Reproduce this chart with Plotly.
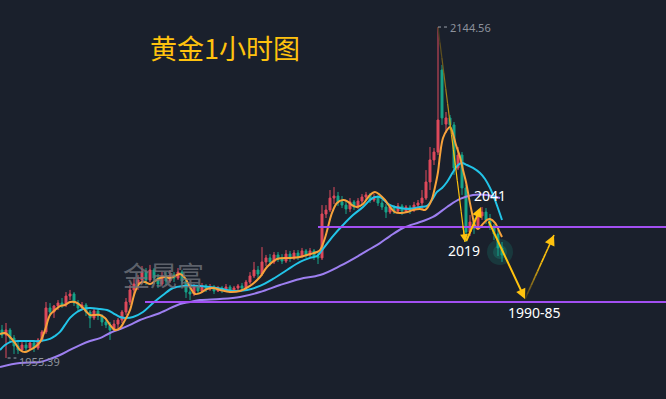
import plotly.graph_objects as go

# ---------------- data (gold, 1h candles) ----------------
candle_open = [1971.4, 1968.5, 1971.4, 1966.8, 1962.3, 1960.0, 1962.8, 1961.1, 1964.0, 1961.1,
               1965.7, 1970.3, 1984.0, 1981.7, 1985.1, 1986.8, 1985.7, 1990.8, 1992.0, 1986.8,
               1984.0, 1985.7, 1981.7, 1978.3, 1982.3, 1979.4, 1976.0, 1974.3, 1971.4, 1974.8,
               1977.1, 1981.7, 1987.4, 1994.3, 1997.7, 2000.0, 2004.5, 2000.0, 2005.7, 2001.1,
               1997.7, 2002.3, 1999.4, 2002.8, 2001.1, 2004.5, 1999.4, 1993.1, 1992.0, 1996.0,
               1993.7, 1996.6, 1994.8, 1996.0, 1993.7, 1995.4, 1994.3, 1996.0, 1994.3, 1995.4,
               1996.6, 1995.4, 1998.8, 2002.3, 2005.7, 2003.4, 2010.3, 2012.6, 2010.3, 2014.3,
               2012.0, 2010.8, 2014.8, 2012.6, 2015.4, 2013.7, 2016.6, 2014.3, 2016.6, 2013.7,
               2012.6, 2037.7, 2040.0, 2046.8, 2048.0, 2044.6, 2042.8, 2040.6, 2044.6, 2041.7,
               2045.1, 2047.4, 2048.6, 2045.7, 2047.4, 2044.0, 2041.7, 2038.8, 2041.7, 2039.4,
               2042.3, 2039.4, 2041.7, 2040.0, 2042.8, 2044.0, 2046.8, 2056.0, 2068.6, 2073.1,
               2120.0, 2089.1, 2092.6, 2088.6, 2064.0, 2071.4, 2052.6, 2027.4, 2033.1, 2029.7,
               2036.6, 2038.8, 2034.3, 2030.8, 2026.3, 2018.3]
candle_high = [1974.3, 1975.4, 1972.5, 1968.5, 1965.7, 1964.5, 1965.7, 1965.7, 1965.7, 1966.8,
               1971.4, 1987.4, 1986.8, 1985.7, 1988.5, 1989.7, 1993.1, 1994.3, 1993.1, 1988.5,
               1987.4, 1986.8, 1982.8, 1984.0, 1983.4, 1980.5, 1978.3, 1976.0, 1977.1, 1978.3,
               1982.8, 1989.7, 1997.1, 2001.1, 2002.8, 2008.0, 2006.8, 2008.6, 2006.8, 2003.4,
               2004.5, 2004.5, 2005.7, 2004.5, 2006.8, 2005.7, 2001.1, 1996.6, 1997.7, 1997.1,
               1998.3, 1997.7, 1997.7, 1997.1, 1996.6, 1996.6, 1997.7, 1997.1, 1996.6, 1997.7,
               1998.3, 2000.0, 2004.5, 2010.3, 2008.0, 2018.8, 2014.3, 2014.8, 2016.0, 2016.0,
               2014.8, 2017.1, 2016.6, 2017.1, 2017.1, 2018.3, 2017.7, 2018.3, 2017.7, 2016.0,
               2042.8, 2042.8, 2051.4, 2053.1, 2050.3, 2048.0, 2045.7, 2046.8, 2045.7, 2046.8,
               2049.1, 2050.3, 2049.7, 2049.1, 2048.6, 2045.7, 2043.4, 2043.4, 2042.8, 2044.0,
               2043.4, 2042.8, 2042.8, 2044.6, 2045.7, 2051.4, 2062.8, 2076.0, 2075.4, 2144.56,
               2122.9, 2096.0, 2094.3, 2090.3, 2076.0, 2073.1, 2054.3, 2037.1, 2035.4, 2038.8,
               2041.7, 2041.1, 2037.7, 2032.0, 2028.6, 2021.7]
candle_low = [1966.8, 1955.39, 1964.5, 1957.7, 1957.7, 1958.8, 1958.8, 1960.0, 1958.8, 1960.0,
              1964.5, 1969.1, 1979.4, 1978.3, 1982.8, 1984.0, 1984.5, 1988.5, 1985.1, 1981.7,
              1982.8, 1979.4, 1972.5, 1977.1, 1977.1, 1973.7, 1972.5, 1965.7, 1970.3, 1972.5,
              1975.4, 1980.0, 1985.7, 1990.8, 1994.3, 1997.7, 1997.1, 1998.8, 1997.7, 1995.4,
              1996.6, 1997.1, 1998.3, 1998.8, 2000.0, 1997.7, 1989.7, 1988.5, 1990.8, 1992.0,
              1992.5, 1993.1, 1993.7, 1992.0, 1993.1, 1992.5, 1993.1, 1992.5, 1993.1, 1994.3,
              1993.7, 1994.3, 1997.7, 2001.1, 2001.1, 2002.3, 2008.0, 2008.0, 2009.1, 2010.3,
              2009.1, 2009.7, 2010.3, 2011.4, 2011.4, 2012.6, 2012.6, 2013.1, 2011.4, 2009.1,
              2011.4, 2035.4, 2038.8, 2043.4, 2042.3, 2041.1, 2037.7, 2038.8, 2040.0, 2040.6,
              2043.4, 2045.1, 2044.0, 2044.6, 2042.3, 2040.0, 2035.4, 2037.7, 2037.7, 2038.3,
              2037.1, 2038.3, 2037.7, 2038.8, 2041.1, 2040.0, 2045.7, 2051.4, 2065.7, 2071.4,
              2088.6, 2084.0, 2085.7, 2060.0, 2062.8, 2048.6, 2021.7, 2025.1, 2026.3, 2028.6,
              2034.3, 2032.0, 2028.6, 2022.8, 2013.7, 2010.3]
candle_close = [1968.5, 1971.4, 1966.8, 1962.3, 1960.0, 1962.8, 1961.1, 1964.0, 1961.1, 1965.7,
                1970.3, 1984.0, 1981.7, 1985.1, 1986.8, 1985.7, 1990.8, 1992.0, 1986.8, 1984.0,
                1985.7, 1981.7, 1978.3, 1982.3, 1979.4, 1976.0, 1974.3, 1971.4, 1974.8, 1977.1,
                1981.7, 1987.4, 1994.3, 1997.7, 2000.0, 2004.5, 2000.0, 2005.7, 2001.1, 1997.7,
                2002.3, 1999.4, 2002.8, 2001.1, 2004.5, 1999.4, 1993.1, 1992.0, 1996.0, 1993.7,
                1996.6, 1994.8, 1996.0, 1993.7, 1995.4, 1994.3, 1996.0, 1994.3, 1995.4, 1996.6,
                1995.4, 1998.8, 2002.3, 2005.7, 2003.4, 2010.3, 2012.6, 2010.3, 2014.3, 2012.0,
                2010.8, 2014.8, 2012.6, 2015.4, 2013.7, 2016.6, 2014.3, 2016.6, 2013.7, 2012.6,
                2037.7, 2040.0, 2046.8, 2048.0, 2044.6, 2042.8, 2040.6, 2044.6, 2041.7, 2045.1,
                2047.4, 2048.6, 2045.7, 2047.4, 2044.0, 2041.7, 2038.8, 2041.7, 2039.4, 2042.3,
                2039.4, 2041.7, 2040.0, 2042.8, 2044.0, 2046.8, 2056.0, 2068.6, 2073.1, 2091.4,
                2092.6, 2092.6, 2088.6, 2064.0, 2071.4, 2052.6, 2027.4, 2033.1, 2029.7, 2036.6,
                2038.8, 2034.3, 2030.8, 2026.3, 2018.3, 2014.3]
candle_idx = list(range(len(candle_close)))

ma_fast_x = [-0.5, 0.75, 2, 3.25, 4.5, 5.75, 7, 8.25, 9.5, 10.75, 12, 13.25, 14.5, 15.75, 17, 18.25,
             19.5, 20.75, 22, 23.25, 24.5, 25.75, 27, 28.25, 29.5, 30.75, 32, 33.25, 34.5, 35.75,
             37, 38.25, 39.5, 40.75, 42, 43.25, 44.5, 45.75, 47, 48.25, 49.5, 51.25, 52.75, 54.5,
             57, 59.5, 62, 64.5, 66.25, 68.75, 72, 74.5, 77, 78.75, 79.5, 80.75, 82.5, 83.75,
             85.25, 86.25, 87.5, 88.75, 90.25, 92, 93.25, 94.5, 95.75, 97, 98.25, 99.5, 101.25,
             102.75, 104.5, 105.75, 106.5, 107.5, 108.25, 109, 109.5, 110.25, 111.25, 112,
             112.75, 113.5, 114.5, 115.25, 116, 116.75, 117.5, 118.25, 119, 120, 121.25, 122,
             123.25, 124.5, 125]
ma_fast = [1969.1, 1969.7, 1967.4, 1964.0, 1960.0, 1958.8, 1960.0, 1961.7, 1964.5, 1971.4, 1980.0,
           1982.8, 1985.1, 1985.7, 1987.4, 1987.4, 1985.7, 1982.8, 1980.0, 1980.0, 1980.0, 1978.3,
           1974.3, 1971.4, 1972.5, 1977.1, 1982.8, 1993.1, 1998.3, 1998.8, 1997.7, 1999.4, 2001.1,
           2001.7, 2001.1, 2002.3, 2003.4, 2001.1, 1996.0, 1992.0, 1992.5, 1994.8, 1995.4, 1994.3,
           1993.1, 1993.7, 1996.6, 2001.7, 2007.4, 2012.0, 2012.6, 2013.1, 2014.8, 2016.0, 2017.1,
           2024.0, 2038.3, 2044.0, 2045.7, 2045.1, 2042.8, 2041.7, 2043.4, 2048.6, 2050.3, 2048.6,
           2045.7, 2041.7, 2038.8, 2038.3, 2038.8, 2040.0, 2040.6, 2040.0, 2041.7, 2046.3, 2053.1,
           2061.7, 2071.4, 2081.1, 2085.7, 2087.4, 2083.4, 2077.1, 2070.3, 2062.8, 2056.0, 2046.8,
           2038.3, 2030.8, 2029.1, 2031.4, 2034.3, 2034.8, 2032.6, 2026.8, 2024.6]

ma_mid_x = [-0.5, 0.75, 2, 4.5, 7, 9.5, 12, 13.25, 14.5, 15.75, 17, 18.75, 20.25, 22, 24.5, 26.25,
            27.75, 29.5, 30.75, 32.75, 35.25, 37.75, 40.25, 42.75, 45.25, 49.5, 53.75, 57.75,
            61.25, 64.5, 67.75, 71.25, 74.5, 77, 78.75, 80.25, 82.75, 85.25, 87.75, 90.25, 92,
            93.25, 94.5, 97, 99.5, 102, 104.5, 106.25, 107.5, 108.75, 110, 111.25, 112.75, 114,
            115, 116.25, 117.75, 119.5, 120.75, 122, 123.25, 125]
ma_mid = [1960.0, 1962.8, 1964.5, 1965.1, 1965.1, 1965.1, 1966.3, 1968.0, 1970.3, 1974.3, 1978.3,
          1981.7, 1983.4, 1984.0, 1983.4, 1982.8, 1981.1, 1978.8, 1978.3, 1978.8, 1981.7, 1986.8,
          1991.4, 1995.4, 1996.6, 1996.6, 1995.4, 1993.7, 1994.3, 1996.6, 2000.6, 2005.7, 2010.3,
          2012.6, 2013.7, 2017.7, 2025.1, 2031.4, 2037.1, 2041.7, 2045.7, 2047.4, 2047.4, 2042.8,
          2041.1, 2040.6, 2041.7, 2042.3, 2045.7, 2050.3, 2052.6, 2056.0, 2061.7, 2065.7, 2066.8,
          2065.7, 2064.0, 2061.1, 2057.7, 2052.6, 2045.7, 2034.3]

ma_slow_x = [-0.5, 4.5, 9.5, 12, 14.5, 17, 19.5, 22, 24.5, 27, 29.5, 32, 34.5, 39.5, 44.5, 47, 49.5,
             54.5, 59.5, 64.5, 69.5, 74.5, 79.5, 84.5, 89.5, 92, 94.5, 97, 100.25, 104.5, 107.75,
             111.25, 114.5, 117.75, 121.25, 124.5]
ma_slow = [1950.3, 1952.5, 1953.1, 1954.8, 1957.1, 1960.0, 1962.8, 1965.1, 1966.8, 1969.7, 1971.9,
           1974.3, 1977.1, 1981.1, 1986.3, 1987.4, 1988.5, 1989.1, 1990.3, 1993.1, 1997.1, 2000.6,
           2002.8, 2008.0, 2014.3, 2017.7, 2021.1, 2025.1, 2029.7, 2033.1, 2036.0, 2041.7, 2046.3,
           2048.6, 2048.6, 2046.8]

level_prices = [2030.3, 1987.4]
level_starts = [79, 35.75]

high_label = "2144.56"
low_label = "1955.39"
target_labels = ["2041", "2019", "1990-85"]

# arrow waypoints (candle index, price)
arrow_tail = [(109, 2144.56), (115.9, 2021.4), (121.5, 2034.3), (130.75, 1989.1)]
arrow_head = [(115.75, 2021.7), (119.75, 2041.7), (130.75, 1989.1), (138, 2025.7)]
arrow_gradient = [True, False, False, True]
arrow_width = [1.2, 2, 2, 1.6]

# ---------------- styling ----------------
BG = "#1a202c"
RED = "#df4a5c"
GREEN = "#17a58a"
GOLD = "#ffc20e"

fig = go.Figure()

fig.add_trace(go.Candlestick(
    x=candle_idx, open=candle_open, high=candle_high, low=candle_low, close=candle_close,
    increasing=dict(line=dict(color=RED, width=1), fillcolor=RED),
    decreasing=dict(line=dict(color=GREEN, width=1), fillcolor=GREEN),
    whiskerwidth=0, showlegend=False, hoverinfo="skip"))

# glow on the last candle
fig.add_trace(go.Scatter(x=[candle_idx[-1] - 0.5], y=[candle_close[-1] + 1.7], mode="markers",
                         marker=dict(size=26, color="rgba(23,165,138,0.18)"),
                         showlegend=False, hoverinfo="skip"))
fig.add_trace(go.Scatter(x=[candle_idx[-1] - 0.5], y=[candle_close[-1] + 1.7], mode="markers",
                         marker=dict(size=14, color="rgba(23,165,138,0.25)"),
                         showlegend=False, hoverinfo="skip"))

fig.add_trace(go.Scatter(x=ma_slow_x, y=ma_slow, mode="lines", line=dict(color="#9d7ff0", width=2, shape="spline"),
                         showlegend=False, hoverinfo="skip"))
fig.add_trace(go.Scatter(x=ma_mid_x, y=ma_mid, mode="lines", line=dict(color="#22c4e8", width=2, shape="spline"),
                         showlegend=False, hoverinfo="skip"))
fig.add_trace(go.Scatter(x=ma_fast_x, y=ma_fast, mode="lines", line=dict(color="#f7a23b", width=2, shape="spline"),
                         showlegend=False, hoverinfo="skip"))

X_END = 166
for p, s in zip(level_prices, level_starts):
    fig.add_trace(go.Scatter(x=[s, X_END], y=[p, p], mode="lines", line=dict(color="#a24ff2", width=2),
                             showlegend=False, hoverinfo="skip"))


def mix(c1, c2, t):
    a = [int(c1[i:i + 2], 16) for i in (1, 3, 5)]
    b = [int(c2[i:i + 2], 16) for i in (1, 3, 5)]
    return "rgb(%d,%d,%d)" % tuple(round(a[k] + (b[k] - a[k]) * t) for k in range(3))


annotations = []
for (tx, ty), (hx, hy), grad, w in zip(arrow_tail, arrow_head, arrow_gradient, arrow_width):
    if grad:
        n = 14
        for k in range(n):
            t0, t1 = k / n, (k + 1) / n
            fig.add_trace(go.Scatter(
                x=[tx + (hx - tx) * t0, tx + (hx - tx) * t1],
                y=[ty + (hy - ty) * t0, ty + (hy - ty) * t1],
                mode="lines", line=dict(color=mix("#2e2c24", GOLD, min(1, t1 * 1.6)), width=w),
                showlegend=False, hoverinfo="skip"))
        annotations.append(dict(x=hx, y=hy, ax=hx - (hx - tx) * 0.08, ay=hy - (hy - ty) * 0.08,
                                xref="x", yref="y", axref="x", ayref="y", text="", showarrow=True,
                                arrowhead=2, arrowsize=1.3, arrowwidth=w, arrowcolor=GOLD))
    else:
        annotations.append(dict(x=hx, y=hy, ax=tx, ay=ty, xref="x", yref="y", axref="x", ayref="y",
                                text="", showarrow=True, arrowhead=2, arrowsize=1, arrowwidth=w,
                                arrowcolor=GOLD))

# dotted markers for extreme values
fig.add_trace(go.Scatter(x=[109, 111.3], y=[2144.56, 2144.56], mode="lines",
                         line=dict(color="#9aa0aa", width=1, dash="dot"), showlegend=False, hoverinfo="skip"))
fig.add_trace(go.Scatter(x=[1.4, 3.6], y=[1955.39, 1955.39], mode="lines",
                         line=dict(color="#9aa0aa", width=1, dash="dot"), showlegend=False, hoverinfo="skip"))

annotations += [
    dict(x=111.4, y=2144.1, xref="x", yref="y", text=high_label, showarrow=False, xanchor="left",
         font=dict(family="Noto Sans", size=11, color="#8d929c")),
    dict(x=3.7, y=1953.6, xref="x", yref="y", text=low_label, showarrow=False, xanchor="left",
         font=dict(family="Noto Sans", size=11, color="#8d929c")),
    dict(x=122.0, y=2048.0, xref="x", yref="y", text=target_labels[0], showarrow=False,
         font=dict(family="Noto Sans", size=14, color="#ffffff")),
    dict(x=115.6, y=2017.0, xref="x", yref="y", text=target_labels[1], showarrow=False,
         font=dict(family="Noto Sans", size=14, color="#ffffff")),
    dict(x=133.0, y=1981.6, xref="x", yref="y", text=target_labels[2], showarrow=False,
         font=dict(family="Noto Sans", size=14, color="#ffffff")),
    dict(x=0.222, y=0.882, xref="paper", yref="paper", text="黄金1小时图", showarrow=False,
         xanchor="left", yanchor="middle",
         font=dict(family="Noto Sans CJK SC", size=27, color=GOLD)),
    dict(x=0.246, y=0.311, xref="paper", yref="paper", text="金晟富", showarrow=False,
         xanchor="center", yanchor="middle",
         font=dict(family="Noto Sans CJK SC", size=27, color="rgba(112,116,124,0.8)")),
]

fig.update_layout(
    width=666, height=399, margin=dict(l=0, r=0, t=0, b=0),
    paper_bgcolor=BG, plot_bgcolor=BG, annotations=annotations, showlegend=False,
    xaxis=dict(range=[-0.5, X_END], visible=False, showgrid=False, zeroline=False,
               rangeslider=dict(visible=False), fixedrange=True),
    yaxis=dict(range=[1931.97, 2160.0], visible=False, showgrid=False, zeroline=False, fixedrange=True),
)

fig.write_html("out.html", config=dict(displayModeBar=False),
               post_script="document.body.style.margin='0';document.body.style.background='%s';" % BG)
